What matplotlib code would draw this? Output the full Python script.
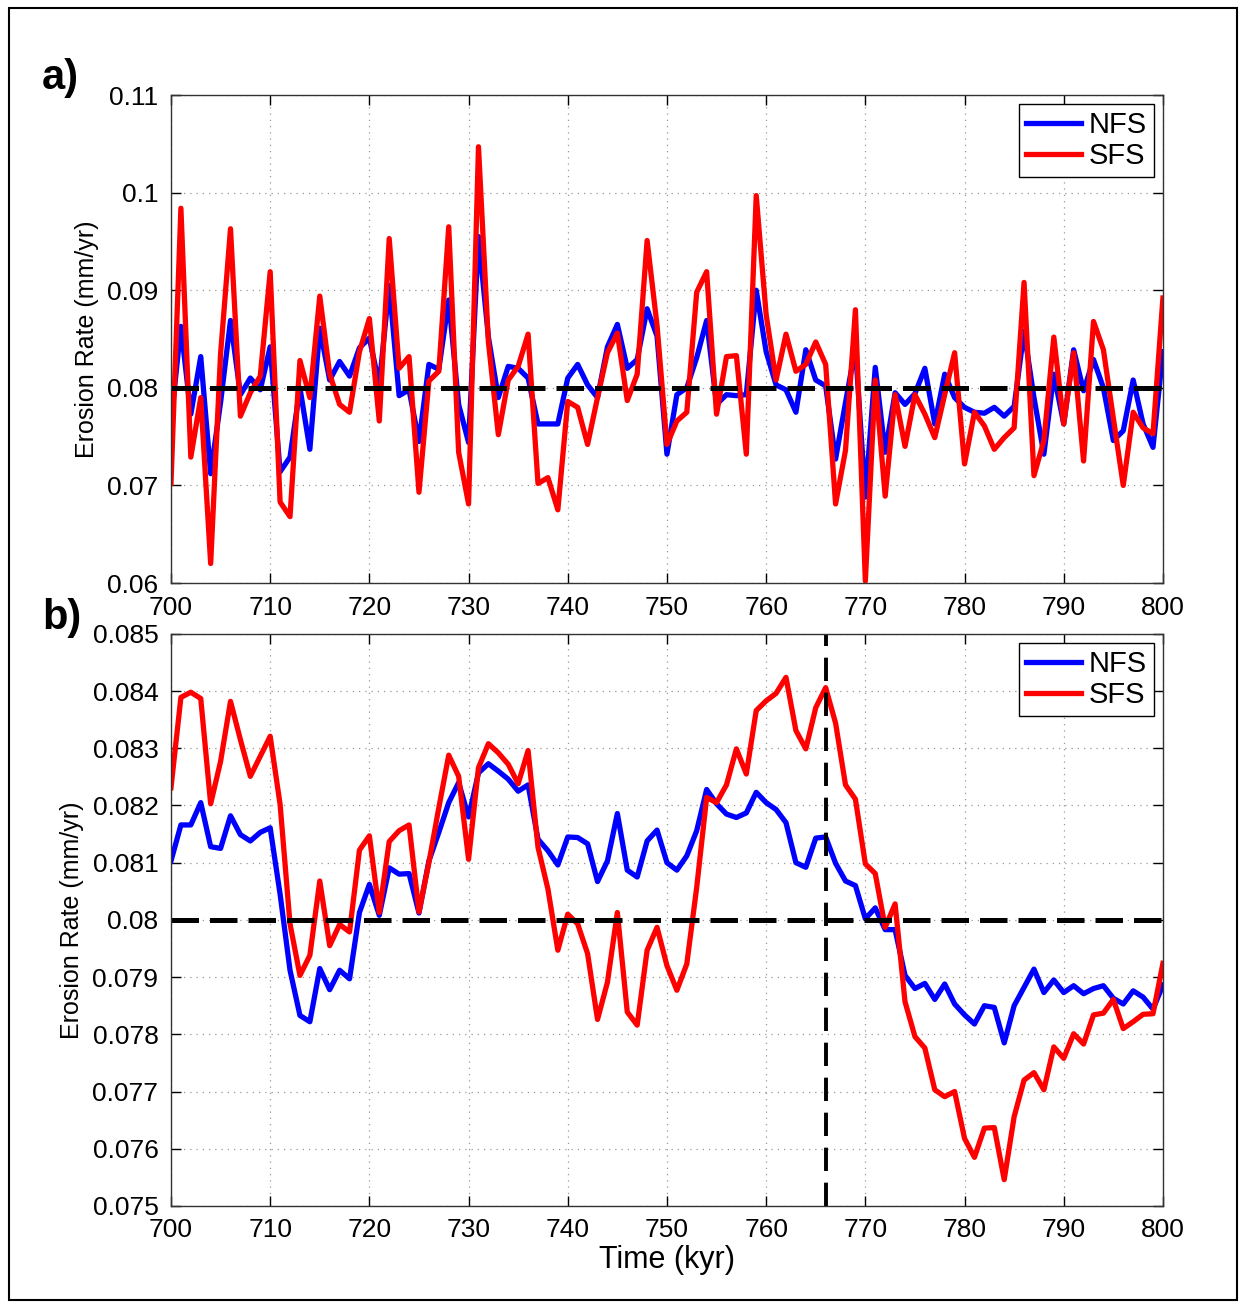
import matplotlib
matplotlib.use("Agg")
import matplotlib.pyplot as plt
from matplotlib.ticker import FuncFormatter
import numpy as np

plt.rcParams['font.family'] = ['Liberation Sans', 'DejaVu Sans']

# time axis, kyr
time_kyr = np.arange(700, 801, 1)

# panel a: erosion rate (mm/yr)
nfs_a = [0.0765, 0.0863, 0.0773, 0.0832, 0.0712, 0.0785, 0.0869, 0.0793, 0.0810, 0.0798,
         0.0842, 0.0714, 0.0729, 0.0800, 0.0737, 0.0861, 0.0808, 0.0827, 0.0812, 0.0841,
         0.0851, 0.0803, 0.0905, 0.0792, 0.0798, 0.0745, 0.0824, 0.0819, 0.0890, 0.0783,
         0.0744, 0.0955, 0.0852, 0.0790, 0.0822, 0.0820, 0.0810, 0.0763, 0.0763, 0.0763,
         0.0810, 0.0824, 0.0803, 0.0790, 0.0842, 0.0865, 0.0820, 0.0829, 0.0881, 0.0853,
         0.0732, 0.0793, 0.0800, 0.0831, 0.0869, 0.0783, 0.0793, 0.0792, 0.0793, 0.0900,
         0.0837, 0.0803, 0.0798, 0.0775, 0.0839, 0.0808, 0.0802, 0.0727, 0.0785, 0.0841,
         0.0688, 0.0821, 0.0734, 0.0795, 0.0783, 0.0794, 0.0820, 0.0763, 0.0814, 0.0790,
         0.0780, 0.0775, 0.0774, 0.0780, 0.0771, 0.0781, 0.0858, 0.0790, 0.0732, 0.0814,
         0.0763, 0.0839, 0.0797, 0.0829, 0.0800, 0.0746, 0.0756, 0.0808, 0.0763, 0.0739,
         0.0837]
sfs_a = [0.0702, 0.0984, 0.0729, 0.0790, 0.0620, 0.0835, 0.0963, 0.0771, 0.0795, 0.0812,
         0.0919, 0.0683, 0.0668, 0.0828, 0.0790, 0.0894, 0.0814, 0.0783, 0.0775, 0.0837,
         0.0871, 0.0766, 0.0953, 0.0820, 0.0832, 0.0693, 0.0807, 0.0817, 0.0965, 0.0734,
         0.0681, 0.1047, 0.0847, 0.0752, 0.0808, 0.0822, 0.0855, 0.0702, 0.0708, 0.0675,
         0.0786, 0.0780, 0.0742, 0.0790, 0.0836, 0.0856, 0.0787, 0.0814, 0.0951, 0.0864,
         0.0742, 0.0766, 0.0775, 0.0898, 0.0919, 0.0773, 0.0832, 0.0833, 0.0732, 0.0997,
         0.0875, 0.0808, 0.0855, 0.0817, 0.0824, 0.0847, 0.0824, 0.0681, 0.0736, 0.0880,
         0.0602, 0.0808, 0.0689, 0.0793, 0.0740, 0.0793, 0.0773, 0.0749, 0.0793, 0.0836,
         0.0722, 0.0775, 0.0761, 0.0737, 0.0749, 0.0759, 0.0908, 0.0710, 0.0746, 0.0852,
         0.0763, 0.0836, 0.0725, 0.0868, 0.0839, 0.0769, 0.0700, 0.0775, 0.0759, 0.0753,
         0.0892]

# panel b: erosion rate (mm/yr)
nfs_b = [0.08103, 0.08166, 0.08166, 0.08205, 0.08128, 0.08125, 0.08182, 0.08149, 0.08138, 0.08153,
         0.08161, 0.08045, 0.07912, 0.07833, 0.07822, 0.07915, 0.07878, 0.07912, 0.07897, 0.08013,
         0.08062, 0.08008, 0.08091, 0.08080, 0.08081, 0.08012, 0.08103, 0.08153, 0.08205, 0.08240,
         0.08180, 0.08257, 0.08273, 0.08260, 0.08246, 0.08225, 0.08236, 0.08141, 0.08121, 0.08096,
         0.08145, 0.08144, 0.08133, 0.08067, 0.08103, 0.08186, 0.08087, 0.08075, 0.08138, 0.08157,
         0.08100, 0.08087, 0.08112, 0.08156, 0.08228, 0.08203, 0.08185, 0.08179, 0.08187, 0.08223,
         0.08205, 0.08193, 0.08170, 0.08100, 0.08092, 0.08143, 0.08145, 0.08099, 0.08068, 0.08060,
         0.08002, 0.08021, 0.07983, 0.07983, 0.07903, 0.07880, 0.07889, 0.07861, 0.07888, 0.07853,
         0.07834, 0.07818, 0.07850, 0.07847, 0.07785, 0.07850, 0.07882, 0.07914, 0.07873, 0.07895,
         0.07873, 0.07885, 0.07871, 0.07880, 0.07885, 0.07863, 0.07853, 0.07876, 0.07865, 0.07844,
         0.07886]
sfs_b = [0.08231, 0.08389, 0.08398, 0.08387, 0.08203, 0.08277, 0.08382, 0.08315, 0.08251, 0.08286,
         0.08321, 0.08202, 0.07993, 0.07903, 0.07938, 0.08068, 0.07955, 0.07992, 0.07979, 0.08122,
         0.08147, 0.08013, 0.08137, 0.08156, 0.08166, 0.08014, 0.08100, 0.08196, 0.08288, 0.08251,
         0.08106, 0.08266, 0.08308, 0.08292, 0.08272, 0.08238, 0.08296, 0.08127, 0.08054, 0.07947,
         0.08010, 0.07993, 0.07941, 0.07826, 0.07891, 0.08013, 0.07839, 0.07816, 0.07947, 0.07987,
         0.07920, 0.07877, 0.07923, 0.08057, 0.08214, 0.08205, 0.08236, 0.08299, 0.08255, 0.08366,
         0.08383, 0.08396, 0.08424, 0.08331, 0.08299, 0.08371, 0.08406, 0.08344, 0.08236, 0.08211,
         0.08098, 0.08081, 0.07987, 0.08028, 0.07857, 0.07796, 0.07776, 0.07703, 0.07691, 0.07700,
         0.07618, 0.07585, 0.07636, 0.07637, 0.07546, 0.07656, 0.07720, 0.07733, 0.07703, 0.07778,
         0.07758, 0.07801, 0.07783, 0.07834, 0.07837, 0.07861, 0.07810, 0.07822, 0.07835, 0.07836,
         0.07924]

mean_rate = 0.08
event_kyr = 766

fig = plt.figure(figsize=(12.39, 13.04), dpi=100)
fig.patches.append(plt.Rectangle((0.007, 0.003), 0.991, 0.991, transform=fig.transFigure,
                                 fill=False, edgecolor="black", lw=1.5))

ax_a = fig.add_axes([0.138, 0.5529, 0.8006, 0.3742])
ax_b = fig.add_axes([0.138, 0.0752, 0.8006, 0.4387])

fmt = FuncFormatter(lambda v, p: "%g" % round(v, 4))

for ax, nfs, sfs, ylim, yticks in [
        (ax_a, nfs_a, sfs_a, (0.06, 0.11), np.arange(0.06, 0.1101, 0.01)),
        (ax_b, nfs_b, sfs_b, (0.075, 0.085), np.arange(0.075, 0.08501, 0.001))]:
    ax.plot(time_kyr, nfs, color="blue", lw=3.8, label="NFS")
    ax.plot(time_kyr, sfs, color="red", lw=3.8, label="SFS")
    ax.axhline(mean_rate, color="black", lw=3.6, ls=(0, (5.5, 2.2)))
    ax.set_xlim(700, 800)
    ax.set_ylim(*ylim)
    ax.set_xticks(np.arange(700, 801, 10))
    ax.set_yticks(yticks)
    ax.yaxis.set_major_formatter(fmt)
    ax.grid(True, color="#999999", ls=(0, (1, 4)), lw=0.9)
    ax.tick_params(direction="in", top=True, right=True, labelsize=19, length=7, width=1, pad=9)
    for s in ax.spines.values():
        s.set_linewidth(1.0)
        s.set_color("#333333")
    ax.set_ylabel("Erosion Rate (mm/yr)", fontsize=18, labelpad=6)
    leg = ax.legend(loc="upper right", fontsize=21, fancybox=False, framealpha=1,
                    edgecolor="black", handlelength=1.9, borderaxespad=0.3,
                    handletextpad=0.25, labelspacing=0.1, borderpad=0.25)
    leg.get_frame().set_linewidth(1.0)

ax_b.axvline(event_kyr, color="black", lw=2.8, ls=(0, (6, 3)))
ax_b.set_xlabel("Time (kyr)", fontsize=22, labelpad=2)

fig.text(0.034, 0.932, "a)", fontsize=30, fontweight="bold")
fig.text(0.034, 0.518, "b)", fontsize=30, fontweight="bold")

fig.savefig("out.png", dpi=100)
